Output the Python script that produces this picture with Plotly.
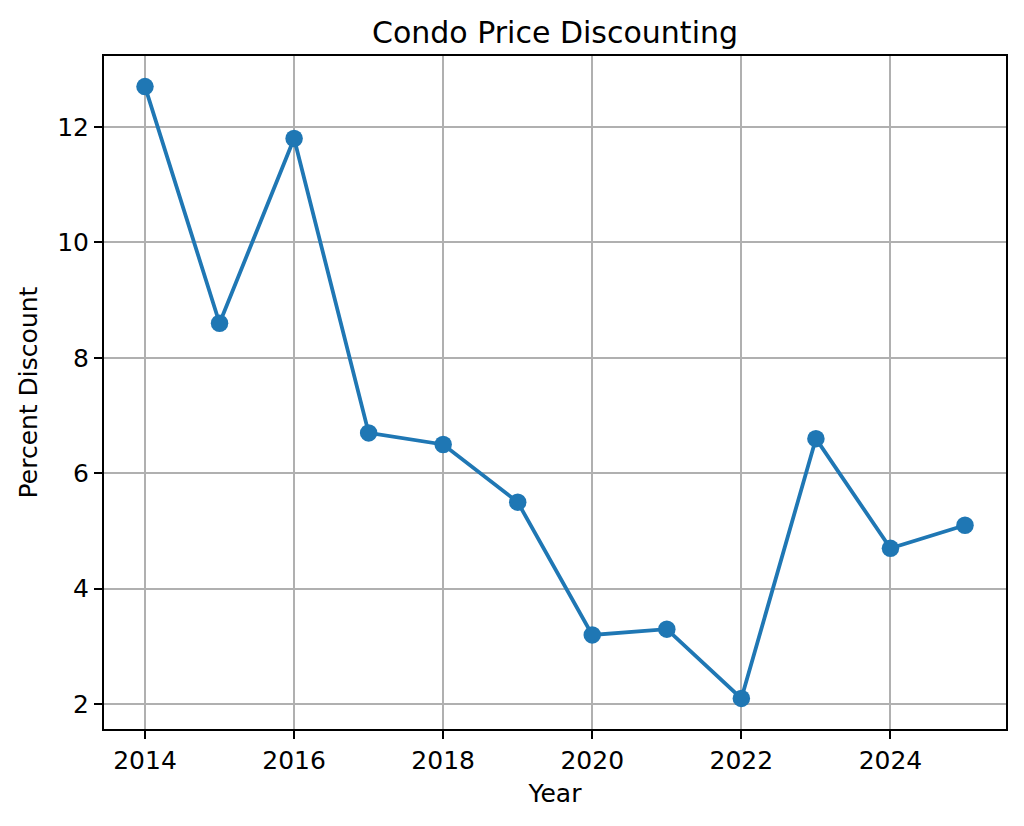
import plotly.graph_objects as go

years = [2014, 2015, 2016, 2017, 2018, 2019, 2020, 2021, 2022, 2023, 2024, 2025]
discount = [12.7, 8.6, 11.8, 6.7, 6.5, 5.5, 3.2, 3.3, 2.1, 6.6, 4.7, 5.1]
x_ticks = [2014, 2016, 2018, 2020, 2022, 2024]
y_ticks = [2, 4, 6, 8, 10, 12]

FONT = "DejaVu Sans"

fig = go.Figure()
fig.add_trace(go.Scatter(
    x=years, y=discount, mode="lines+markers",
    line=dict(color="#1f77b4", width=3.8),
    marker=dict(color="#1f77b4", size=17.5),
    showlegend=False,
))

axis_common = dict(
    showline=True, linecolor="black", linewidth=2, mirror=True,
    ticks="outside", ticklen=8, tickwidth=2, tickcolor="black",
    showgrid=True, gridcolor="#b0b0b0", gridwidth=2,
    zeroline=False,
    tickfont=dict(family=FONT, size=25, color="black"),
    title_font=dict(family=FONT, size=25, color="black"),
)

fig.update_xaxes(
    range=[2013.45, 2025.55], tickvals=x_ticks,
    title_text="Year", title_standoff=10, **axis_common,
)
fig.update_yaxes(
    range=[1.57, 13.23], tickvals=y_ticks,
    title_text="Percent Discount", title_standoff=12, **axis_common,
)

# page body has an 8px margin; compensate so the plot area lands where the reference has it
fig.update_layout(
    width=1016, height=818,
    margin=dict(l=96, r=18, t=48, b=97, pad=0),
    paper_bgcolor="white", plot_bgcolor="white",
    title=dict(text="Condo Price Discounting", x=0.5, xref="paper",
               y=1 - 24 / 818, yref="container", yanchor="middle",
               font=dict(family=FONT, size=30, color="black")),
)

fig.write_html("out.html")
